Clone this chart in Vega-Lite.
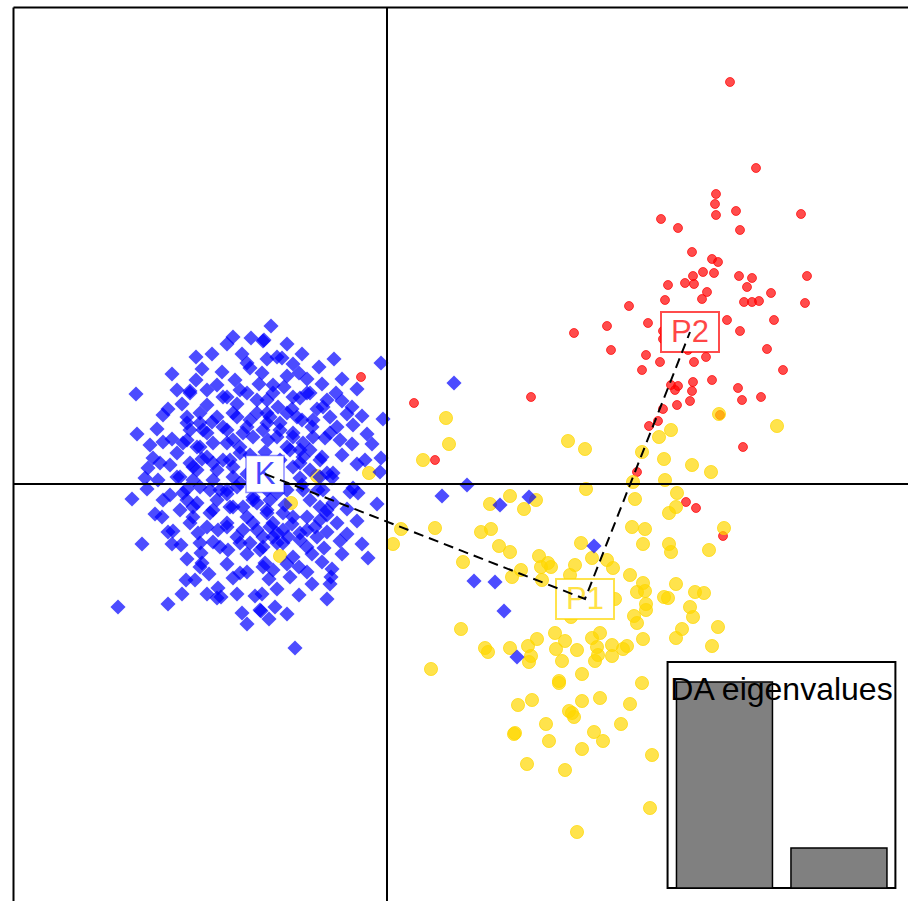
{
"$schema": "https://vega.github.io/schema/vega-lite/v6.json",
"width": 895, "height": 894,
"autosize": {"type": "none"},
"padding": {"left": 13, "top": 7, "right": 0, "bottom": 0},
"background": "white",
"config": {"view": {"stroke": null}, "axis": {"labels": false, "ticks": false, "grid": false, "domainColor": "black", "domainWidth": 2}},
"datasets": {
"eig": [{"axis": 1, "eigenvalue": 2.06}, {"axis": 2, "eigenvalue": 0.40}],
"cent": [{"g": "K", "x": -122, "y": 10, "step": 1}, {"g": "P1", "x": 198, "y": -115, "step": 2}, {"g": "P2", "x": 303, "y": 152, "step": 3}],
"P2": [{"x":343,"y":402},{"x":369,"y":316},{"x":329,"y":290},{"x":328,"y":280},{"x":329,"y":269},{"x":349,"y":273},{"x":414,"y":270},{"x":274,"y":265},{"x":291,"y":256},{"x":353,"y":254},{"x":305,"y":232},{"x":325,"y":225},{"x":331,"y":222},{"x":316,"y":212},{"x":327,"y":211},{"x":306,"y":208},{"x":298,"y":201},{"x":307,"y":200},{"x":281,"y":199},{"x":352,"y":208},{"x":365,"y":206},{"x":360,"y":197},{"x":420,"y":208},{"x":384,"y":191},{"x":320,"y":192},{"x":315,"y":185},{"x":278,"y":184},{"x":242,"y":178},{"x":357,"y":182},{"x":365,"y":182},{"x":372,"y":183},{"x":418,"y":181},{"x":340,"y":164},{"x":261,"y":161},{"x":220,"y":158},{"x":187,"y":151},{"x":353,"y":153},{"x":387,"y":164},{"x":276,"y":153},{"x":276,"y":145},{"x":224,"y":134},{"x":380,"y":135},{"x":259,"y":129},{"x":273,"y":122},{"x":301,"y":134},{"x":307,"y":122},{"x":319,"y":127},{"x":255,"y":114},{"x":396,"y":114},{"x":284,"y":99},{"x":291,"y":98},{"x":288,"y":94},{"x":306,"y":102},{"x":305,"y":93},{"x":325,"y":104},{"x":351,"y":96},{"x":355,"y":84},{"x":374,"y":87},{"x":303,"y":83},{"x":290,"y":79},{"x":276,"y":75},{"x":271,"y":63},{"x":262,"y":58},{"x":356,"y":37},{"x":250,"y":12},{"x":299,"y":-18},{"x":309,"y":-24},{"x":336,"y":-52},{"x":333,"y":69},{"x":-26,"y":107},{"x":27,"y":81},{"x":48,"y":24},{"x":144,"y":87}],
"P1": [{"x":59,"y":66},{"x":62,"y":40},{"x":36,"y":24},{"x":181,"y":43},{"x":198,"y":35},{"x":199,"y":-5},{"x":123,"y":-12},{"x":103,"y":-20},{"x":149,"y":-16},{"x":137,"y":-25},{"x":14,"y":-45},{"x":6,"y":-60},{"x":48,"y":-44},{"x":94,"y":-48},{"x":104,"y":-45},{"x":112,"y":-62},{"x":123,"y":-68},{"x":76,"y":-78},{"x":152,"y":-72},{"x":161,"y":-79},{"x":154,"y":-83},{"x":164,"y":-83},{"x":134,"y":-86},{"x":125,"y":-93},{"x":155,"y":-96},{"x":188,"y":-81},{"x":194,"y":-59},{"x":205,"y":-74},{"x":183,"y":-91},{"x":74,"y":-145},{"x":150,"y":-155},{"x":168,"y":-149},{"x":184,"y":-133},{"x":205,"y":-154},{"x":213,"y":-149},{"x":-18,"y":11},{"x":-70,"y":8},{"x":-96,"y":-19},{"x":-107,"y":-72},{"x":332,"y":70},{"x":390,"y":58},{"x":284,"y":54},{"x":272,"y":47},{"x":255,"y":32},{"x":277,"y":25},{"x":305,"y":19},{"x":324,"y":12},{"x":246,"y":2},{"x":278,"y":4},{"x":290,"y":-9},{"x":248,"y":-15},{"x":289,"y":-23},{"x":282,"y":-29},{"x":245,"y":-43},{"x":258,"y":-45},{"x":337,"y":-44},{"x":256,"y":-60},{"x":282,"y":-60},{"x":284,"y":-68},{"x":322,"y":-66},{"x":220,"y":-76},{"x":226,"y":-84},{"x":243,"y":-91},{"x":256,"y":-99},{"x":250,"y":-108},{"x":258,"y":-107},{"x":289,"y":-100},{"x":277,"y":-113},{"x":281,"y":-114},{"x":308,"y":-108},{"x":317,"y":-109},{"x":228,"y":-115},{"x":259,"y":-120},{"x":259,"y":-126},{"x":303,"y":-123},{"x":247,"y":-132},{"x":250,"y":-139},{"x":306,"y":-133},{"x":331,"y":-143},{"x":295,"y":-145},{"x":289,"y":-154},{"x":256,"y":-155},{"x":325,"y":-162},{"x":210,"y":-163},{"x":225,"y":-161},{"x":240,"y":-162},{"x":236,"y":-165},{"x":211,"y":-171},{"x":98,"y":-164},{"x":101,"y":-168},{"x":44,"y":-185},{"x":123,"y":-164},{"x":141,"y":-162},{"x":144,"y":-172},{"x":142,"y":-178},{"x":178,"y":-157},{"x":169,"y":-165},{"x":190,"y":-166},{"x":175,"y":-177},{"x":208,"y":-177},{"x":225,"y":-172},{"x":195,"y":-190},{"x":172,"y":-199},{"x":172,"y":-197},{"x":255,"y":-199},{"x":131,"y":-221},{"x":145,"y":-216},{"x":195,"y":-217},{"x":213,"y":-214},{"x":182,"y":-227},{"x":187,"y":-233},{"x":185,"y":-229},{"x":243,"y":-220},{"x":159,"y":-240},{"x":234,"y":-240},{"x":128,"y":-249},{"x":127,"y":-250},{"x":207,"y":-248},{"x":216,"y":-257},{"x":162,"y":-257},{"x":195,"y":-265},{"x":265,"y":-271},{"x":140,"y":-280},{"x":178,"y":-286},{"x":263,"y":-324},{"x":190,"y":-348}],
"K": [{"x":-116,"y":158},{"x":-154,"y":147},{"x":-136,"y":146},{"x":-124,"y":143},{"x":-191,"y":127},{"x":-140,"y":121},{"x":-110,"y":127},{"x":-251,"y":90},{"x":-210,"y":94},{"x":-197,"y":93},{"x":-191,"y":104},{"x":-170,"y":99},{"x":-152,"y":104},{"x":-125,"y":111},{"x":-137,"y":116},{"x":-114,"y":99},{"x":-219,"y":75},{"x":-224,"y":69},{"x":-200,"y":67},{"x":-180,"y":79},{"x":-160,"y":87},{"x":-140,"y":91},{"x":-120,"y":84},{"x":-170,"y":67},{"x":-187,"y":61},{"x":-150,"y":67},{"x":-130,"y":71},{"x":-197,"y":54},{"x":-180,"y":51},{"x":-160,"y":54},{"x":-140,"y":57},{"x":-120,"y":61},{"x":-237,"y":39},{"x":-224,"y":42},{"x":-210,"y":31},{"x":-234,"y":26},{"x":-227,"y":21},{"x":-217,"y":19},{"x":-204,"y":41},{"x":-190,"y":37},{"x":-174,"y":41},{"x":-154,"y":44},{"x":-134,"y":47},{"x":-197,"y":21},{"x":-180,"y":27},{"x":-164,"y":24},{"x":-147,"y":31},{"x":-190,"y":14},{"x":-170,"y":14},{"x":-154,"y":17},{"x":-207,"y":7},{"x":-123,"y":144},{"x":-105,"y":126},{"x":-94,"y":120},{"x":-88,"y":111},{"x":-68,"y":117},{"x":-53,"y":125},{"x":-6,"y":121},{"x":67,"y":101},{"x":-103,"y":97},{"x":-80,"y":91},{"x":-87,"y":86},{"x":-51,"y":91},{"x":-45,"y":83},{"x":-35,"y":77},{"x":-64,"y":77},{"x":-25,"y":68},{"x":-4,"y":65},{"x":-109,"y":77},{"x":-117,"y":67},{"x":-100,"y":71},{"x":-85,"y":64},{"x":-75,"y":57},{"x":-57,"y":67},{"x":-50,"y":57},{"x":-34,"y":59},{"x":-62,"y":46},{"x":-47,"y":44},{"x":-45,"y":29},{"x":-84,"y":41},{"x":-94,"y":47},{"x":-107,"y":54},{"x":-119,"y":44},{"x":-97,"y":34},{"x":-77,"y":34},{"x":-65,"y":27},{"x":-84,"y":27},{"x":-22,"y":24},{"x":-6,"y":26},{"x":-7,"y":12},{"x":-60,"y":11},{"x":-77,"y":14},{"x":-94,"y":17},{"x":-87,"y":6},{"x":-55,"y":6},{"x":80,"y":-1},{"x":55,"y":-12},{"x":-30,"y":-37},{"x":-47,"y":-57},{"x":-19,"y":-74},{"x":-63,"y":-64},{"x":-65,"y":-78},{"x":-80,"y":-88},{"x":-97,"y":-93},{"x":-88,"y":-83},{"x":-94,"y":-73},{"x":-56,"y":-93},{"x":-57,"y":-100},{"x":-88,"y":-111},{"x":-112,"y":-123},{"x":-118,"y":-135},{"x":-127,"y":-126},{"x":-92,"y":-164},{"x":87,"y":-97},{"x":-60,"y":-48},{"x":-72,"y":-43},{"x":-60,"y":-31},{"x":-67,"y":-23},{"x":-77,"y":-16},{"x":-69,"y":-6},{"x":-85,"y":-1},{"x":-110,"y":-9},{"x":-94,"y":-33},{"x":-104,"y":-46},{"x":-114,"y":-39},{"x":-124,"y":-53},{"x":-110,"y":-59},{"x":-99,"y":-53},{"x":-122,"y":-79},{"x":-114,"y":-86},{"x":-80,"y":-46},{"x":-87,"y":-56},{"x":-34,"y":-4},{"x":-29,"y":-9},{"x":-37,"y":-8},{"x":113,"y":-21},{"x":142,"y":-13},{"x":108,"y":-98},{"x":117,"y":-127},{"x":207,"y":-62},{"x":130,"y":-173},{"x":-225,"y":-33},{"x":-219,"y":-48},{"x":-214,"y":-47},{"x":-206,"y":-61},{"x":-189,"y":-49},{"x":-174,"y":-58},{"x":-159,"y":-66},{"x":-186,"y":-69},{"x":-185,"y":-79},{"x":-187,"y":-83},{"x":-201,"y":-96},{"x":-192,"y":-96},{"x":-169,"y":-104},{"x":-170,"y":-114},{"x":-166,"y":-113},{"x":-269,"y":-123},{"x":-219,"y":-120},{"x":-145,"y":-129},{"x":-132,"y":-112},{"x":-126,"y":-127},{"x":-154,"y":-94},{"x":-147,"y":-89},{"x":-140,"y":-88},{"x":-124,"y":-83},{"x":-207,"y":-26},{"x":-200,"y":-16},{"x":-194,"y":-33},{"x":-204,"y":-9},{"x":-190,"y":-19},{"x":-177,"y":-29},{"x":-169,"y":-46},{"x":-160,"y":-39},{"x":-150,"y":-53},{"x":-137,"y":-59},{"x":-127,"y":-66},{"x":-144,"y":-46},{"x":-134,"y":-39},{"x":-157,"y":-23},{"x":-144,"y":-23},{"x":-130,"y":-19},{"x":-170,"y":-16},{"x":-177,"y":-6},{"x":-160,"y":-6},{"x":-147,"y":1},{"x":-134,"y":-13},{"x":-120,"y":-26},{"x":-117,"y":-43},{"x":-114,"y":-53},{"x":-210,"y":7},{"x":-194,"y":4},{"x":-174,"y":4},{"x":-154,"y":7},{"x":-120,"y":-6},{"x":-200,"y":44},{"x":-187,"y":37},{"x":-160,"y":41},{"x":-147,"y":37},{"x":-100,"y":37},{"x":-87,"y":34},{"x":-194,"y":17},{"x":-174,"y":21},{"x":-157,"y":24},{"x":-87,"y":21},{"x":-67,"y":24},{"x":-187,"y":-3},{"x":-167,"y":-6},{"x":-150,"y":-3},{"x":-134,"y":-16},{"x":-117,"y":-16},{"x":-100,"y":-6},{"x":-84,"y":-6},{"x":-64,"y":-6},{"x":-54,"y":-19},{"x":-194,"y":-23},{"x":-174,"y":-26},{"x":-154,"y":-23},{"x":-140,"y":-33},{"x":-120,"y":-29},{"x":-104,"y":-29},{"x":-80,"y":-33},{"x":-67,"y":-36},{"x":-197,"y":-39},{"x":-180,"y":-43},{"x":-160,"y":-43},{"x":-130,"y":-46},{"x":-110,"y":-49},{"x":-87,"y":-49},{"x":-70,"y":-53},{"x":-187,"y":-59},{"x":-167,"y":-63},{"x":-147,"y":-59},{"x":-124,"y":-63},{"x":-104,"y":-59},{"x":-80,"y":-63},{"x":-197,"y":91},{"x":-180,"y":94},{"x":-164,"y":87},{"x":-147,"y":94},{"x":-130,"y":84},{"x":-114,"y":91},{"x":-94,"y":87},{"x":-77,"y":91},{"x":-60,"y":84},{"x":-187,"y":71},{"x":-154,"y":71},{"x":-137,"y":64},{"x":-120,"y":71},{"x":-107,"y":61},{"x":-90,"y":67},{"x":-74,"y":64},{"x":-200,"y":61},{"x":-184,"y":54},{"x":-164,"y":57},{"x":-144,"y":51},{"x":-124,"y":54},{"x":-110,"y":47},{"x":-94,"y":51},{"x":-74,"y":47},{"x":-57,"y":51},{"x":-67,"y":7},{"x":-54,"y":11},{"x":-60,"y":-26},{"x":-50,"y":-39},{"x":-239,"y":16},{"x":-229,"y":4},{"x":-217,"y":-11},{"x":-224,"y":-16},{"x":-242,"y":6},{"x":-132,"y":14},{"x":-112,"y":4},{"x":-137,"y":29},{"x":-107,"y":24},{"x":-122,"y":32},{"x":-102,"y":-21},{"x":-215,"y":110},{"x":-185,"y":115},{"x":-165,"y":112},{"x":-145,"y":130},{"x":-120,"y":125},{"x":-100,"y":108},{"x":-80,"y":105},{"x":-65,"y":100},{"x":-45,"y":105},{"x":-30,"y":95},{"x":-230,"y":55},{"x":-215,"y":45},{"x":-205,"y":80},{"x":-175,"y":62},{"x":-150,"y":80},{"x":-128,"y":100},{"x":-95,"y":75},{"x":-70,"y":75},{"x":-40,"y":70},{"x":-20,"y":50},{"x":-240,"y":-5},{"x":-232,"y":-30},{"x":-215,"y":-60},{"x":-200,"y":-75},{"x":-178,"y":-90},{"x":-160,"y":-80},{"x":-140,"y":-70},{"x":-118,"y":-95},{"x":-100,"y":-80},{"x":-75,"y":-70},{"x":-45,"y":-70},{"x":-40,"y":-25},{"x":-30,"y":20},{"x":-15,"y":40},{"x":-10,"y":-20},{"x":-140,"y":10},{"x":-160,"y":-10},{"x":-185,"y":25},{"x":-200,"y":-5},{"x":-95,"y":-40},{"x":-125,"y":-110},{"x":-150,"y":-110},{"x":-180,"y":-110},{"x":-205,"y":-110},{"x":-110,"y":-105},{"x":-75,"y":-100},{"x":-60,"y":-115},{"x":-250,"y":50},{"x":-255,"y":-15},{"x":-245,"y":-60},{"x":-175,"y":130},{"x":-160,"y":140},{"x":-100,"y":140},{"x":-85,"y":130},{"x":-35,"y":40},{"x":-40,"y":-50},{"x":-25,"y":-60},{"x":-55,"y":-85},{"x":-140,"y":-140},{"x":-100,"y":-130}]
},
"layer": [
{
"layer": [
{"data": {"values": [{}]},
 "mark": {"type": "rect", "fill": "white", "stroke": "black", "strokeWidth": 2},
 "encoding": {
  "x": {"datum": 0.503, "type": "quantitative", "scale": {"domain": [-5.214, 2.603], "nice": false, "zero": false, "padding": 0}, "axis": null},
  "x2": {"datum": 2.493},
  "y": {"datum": 0, "type": "quantitative", "scale": {"domain": [-0.13, 8.81], "nice": false, "zero": false, "padding": 0}, "axis": null},
  "y2": {"datum": 2.26}}},
{"data": {"name": "eig"},
 "mark": {"type": "bar", "orient": "vertical", "width": 96, "fill": "#808080", "stroke": "black", "strokeWidth": 1.5, "opacity": 1},
 "encoding": {
  "x": {"field": "axis", "type": "quantitative", "scale": {"domain": [-5.214, 2.603], "nice": false, "zero": false, "padding": 0}, "axis": null},
  "y": {"field": "eigenvalue", "type": "quantitative", "scale": {"domain": [-0.13, 8.81], "nice": false, "zero": false, "padding": 0}, "axis": null}}},
{"data": {"values": [{}]},
 "mark": {"type": "text", "text": "DA eigenvalues", "font": "Liberation Sans", "fontSize": 32, "align": "center", "baseline": "alphabetic", "color": "black"},
 "encoding": {
  "x": {"datum": 1.498, "type": "quantitative", "scale": {"domain": [-5.214, 2.603], "nice": false, "zero": false, "padding": 0}, "axis": null},
  "y": {"datum": 1.88, "type": "quantitative", "scale": {"domain": [-0.13, 8.81], "nice": false, "zero": false, "padding": 0}, "axis": null}}}
]
},
{
"layer": [
{"data": {"name": "P2"},
 "mark": {"type": "point", "shape": "circle", "filled": true, "size": 80, "fill": "#ff0000", "fillOpacity": 0.7, "stroke": "#ff0000", "strokeOpacity": 0.7, "strokeWidth": 1, "opacity": 1},
 "encoding": {
  "x": {"field": "x", "type": "quantitative", "scale": {"domain": [-374, 521], "nice": false, "zero": false}, "axis": {"orient": "top"}, "title": null},
  "y": {"field": "y", "type": "quantitative", "scale": {"domain": [-417, 477], "nice": false, "zero": false}, "title": null}}},
{"data": {"name": "P1"},
 "mark": {"type": "point", "shape": "circle", "filled": true, "size": 172, "fill": "#ffd700", "fillOpacity": 0.7, "stroke": "#ffd700", "strokeOpacity": 0.7, "strokeWidth": 1, "opacity": 1},
 "encoding": {
  "x": {"field": "x", "type": "quantitative", "scale": {"domain": [-374, 521], "nice": false, "zero": false}, "axis": {"orient": "top"}, "title": null},
  "y": {"field": "y", "type": "quantitative", "scale": {"domain": [-417, 477], "nice": false, "zero": false}, "title": null}}},
{"data": {"name": "K"},
 "mark": {"type": "point", "shape": "diamond", "filled": true, "size": 230, "fill": "#0000ff", "fillOpacity": 0.7, "strokeWidth": 0, "opacity": 1},
 "encoding": {
  "x": {"field": "x", "type": "quantitative", "scale": {"domain": [-374, 521], "nice": false, "zero": false}, "axis": {"orient": "top"}, "title": null},
  "y": {"field": "y", "type": "quantitative", "scale": {"domain": [-417, 477], "nice": false, "zero": false}, "title": null}}},
{"data": {"values": [{}]},
 "mark": {"type": "rule", "color": "black", "strokeWidth": 2},
 "encoding": {
  "x": {"datum": 0, "type": "quantitative", "scale": {"domain": [-374, 521], "nice": false, "zero": false}, "axis": {"orient": "top"}, "title": null}}},
{"data": {"values": [{}]},
 "mark": {"type": "rule", "color": "black", "strokeWidth": 2},
 "encoding": {
  "y": {"datum": 0, "type": "quantitative", "scale": {"domain": [-417, 477], "nice": false, "zero": false}, "title": null}}},
{"data": {"name": "cent"},
 "transform": [{"filter": "datum.g === 'K'"}],
 "mark": {"type": "point", "shape": "M-1,-0.97L1,-0.97L1,0.97L-1,0.97Z", "size": 1444, "filled": true, "fill": "white", "stroke": "#0000ff", "strokeOpacity": 0.45, "strokeWidth": 1.5, "opacity": 1},
 "encoding": {
  "x": {"field": "x", "type": "quantitative", "scale": {"domain": [-374, 521], "nice": false, "zero": false}, "axis": {"orient": "top"}, "title": null},
  "y": {"field": "y", "type": "quantitative", "scale": {"domain": [-417, 477], "nice": false, "zero": false}, "title": null}}},
{"data": {"name": "cent"},
 "transform": [{"filter": "datum.g !== 'K'"}],
 "mark": {"type": "point", "shape": "M-1,-0.69L1,-0.69L1,0.69L-1,0.69Z", "size": 3364, "filled": true, "fill": "white", "strokeOpacity": 0.7, "strokeWidth": 2, "opacity": 1},
 "encoding": {
  "x": {"field": "x", "type": "quantitative", "scale": {"domain": [-374, 521], "nice": false, "zero": false}, "axis": {"orient": "top"}, "title": null},
  "y": {"field": "y", "type": "quantitative", "scale": {"domain": [-417, 477], "nice": false, "zero": false}, "title": null},
  "stroke": {"field": "g", "type": "nominal", "scale": {"domain": ["P1", "P2"], "range": ["#ffd700", "#ff0000"]}, "legend": null}}},
{"data": {"name": "cent"},
 "mark": {"type": "text", "font": "Liberation Sans", "fontSize": 31, "align": "center", "baseline": "middle", "dy": 1, "opacity": 0.72},
 "encoding": {
  "x": {"field": "x", "type": "quantitative", "scale": {"domain": [-374, 521], "nice": false, "zero": false}, "axis": {"orient": "top"}, "title": null},
  "y": {"field": "y", "type": "quantitative", "scale": {"domain": [-417, 477], "nice": false, "zero": false}, "title": null},
  "text": {"field": "g", "type": "nominal"},
  "color": {"field": "g", "type": "nominal", "scale": {"domain": ["K", "P1", "P2"], "range": ["#0000ff", "#ffd700", "#ff0000"]}, "legend": null}}},
{"data": {"name": "cent"},
 "mark": {"type": "line", "color": "black", "strokeWidth": 2, "strokeDash": [10, 6]},
 "encoding": {
  "x": {"field": "x", "type": "quantitative", "scale": {"domain": [-374, 521], "nice": false, "zero": false}, "axis": {"orient": "top"}, "title": null},
  "y": {"field": "y", "type": "quantitative", "scale": {"domain": [-417, 477], "nice": false, "zero": false}, "title": null},
  "order": {"field": "step", "type": "quantitative"}}}
]
}
],
"resolve": {"scale": {"x": "independent", "y": "independent"}}
}
